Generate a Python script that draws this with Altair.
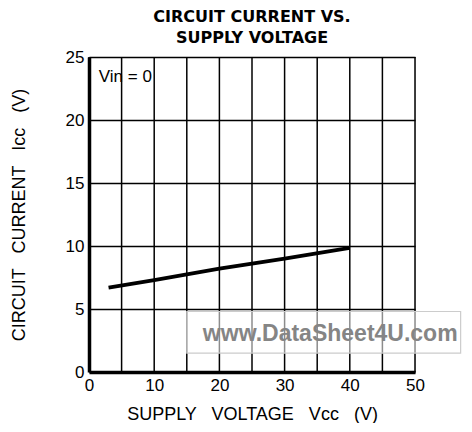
import altair as alt
import pandas as pd

# Data
vcc = [3, 10, 20, 30, 40]
icc = [6.7, 7.3, 8.2, 9.0, 9.85]

x_ticks = [0, 5, 10, 15, 20, 25, 30, 35, 40, 45, 50]
x_labels = [0, 10, 20, 30, 40, 50]
y_ticks = [0, 5, 10, 15, 20, 25]

NB = "\u00a0"
x_title = f"SUPPLY {NB*2}VOLTAGE {NB*2}Vcc {NB*2}(V)"
y_title = f"CIRCUIT {NB*2}CURRENT {NB*2}Icc {NB*2}(V)"

note_text = ["Vin = 0"]
note_x = [1.5]
note_y = [23.4]

wm_text = ["www.DataSheet4U.com"]
wm_x = [37]
wm_y = [3.0]
wm_x1 = [15]
wm_x2 = [57]
wm_y1 = [1.5]
wm_y2 = [4.8]

FONT = "Liberation Sans"

df = pd.DataFrame({"vcc": vcc, "icc": icc})
grid_df = pd.DataFrame({"gx": x_ticks})
note_df = pd.DataFrame({"t": note_text, "x": note_x, "y": note_y})
wm_df = pd.DataFrame({"t": wm_text, "x": wm_x, "y": wm_y,
                      "x1": wm_x1, "x2": wm_x2, "y1": wm_y1, "y2": wm_y2})

xscale = alt.Scale(domain=[0, 50], nice=False, zero=False)
yscale = alt.Scale(domain=[0, 25], nice=False, zero=False)

xaxis = alt.Axis(
    values=x_labels,
    title=x_title,
    grid=False, labelFlush=False,
    ticks=False, domainColor="black", domainWidth=3.5,
    labelFont=FONT, labelFontSize=17, labelColor="black", labelPadding=5,
    titleFont=FONT, titleFontSize=18, titleFontWeight="normal", titleColor="black",
    titlePadding=12,
)
yaxis = alt.Axis(
    values=y_ticks,
    title=y_title,
    grid=True, gridColor="black", gridWidth=1.5, gridOpacity=1, labelFlush=False,
    ticks=False, domainColor="black", domainWidth=3.5,
    labelFont=FONT, labelFontSize=17, labelColor="black", labelPadding=5,
    titleFont=FONT, titleFontSize=18, titleFontWeight="normal", titleColor="black",
    titlePadding=37,
)

vgrid = alt.Chart(grid_df).mark_rule(color="black", strokeWidth=1.5).encode(
    x=alt.X("gx:Q", scale=xscale, axis=xaxis),
)

line = alt.Chart(df).mark_line(color="black", strokeWidth=3.8).encode(
    x=alt.X("vcc:Q", scale=xscale, axis=xaxis),
    y=alt.Y("icc:Q", scale=yscale, axis=yaxis),
)

note = alt.Chart(note_df).mark_text(
    font=FONT, fontSize=17, align="left", baseline="middle", color="black"
).encode(x=alt.X("x:Q", scale=xscale), y=alt.Y("y:Q", scale=yscale), text="t:N")

wm_box = alt.Chart(wm_df).mark_rect(
    fill="white", fillOpacity=0.55, stroke="#cccccc", strokeWidth=1.2, clip=False
).encode(x=alt.X("x1:Q", scale=xscale), x2="x2:Q",
         y=alt.Y("y1:Q", scale=yscale), y2="y2:Q")

wm = alt.Chart(wm_df).mark_text(
    font=FONT, fontSize=23, fontWeight="bold", color="#858585",
    align="center", baseline="middle", clip=False
).encode(x=alt.X("x:Q", scale=xscale), y=alt.Y("y:Q", scale=yscale), text="t:N")

chart = alt.layer(vgrid, line, note, wm_box, wm).properties(
    width=326, height=315,
    title=alt.TitleParams(
        text=["CIRCUIT CURRENT VS.", "SUPPLY VOLTAGE"],
        font="DejaVu Sans", fontSize=16, fontWeight="bold", color="black",
        anchor="middle", offset=2, lineHeight=21,
    ),
    autosize=alt.AutoSizeParams(type="none"),
    padding={"left": 81, "top": 49, "right": 49, "bottom": 51},
).configure_view(stroke="black", strokeWidth=2).configure(background="white")

chart.save("out.html", embed_options={"renderer": "svg", "actions": False})
